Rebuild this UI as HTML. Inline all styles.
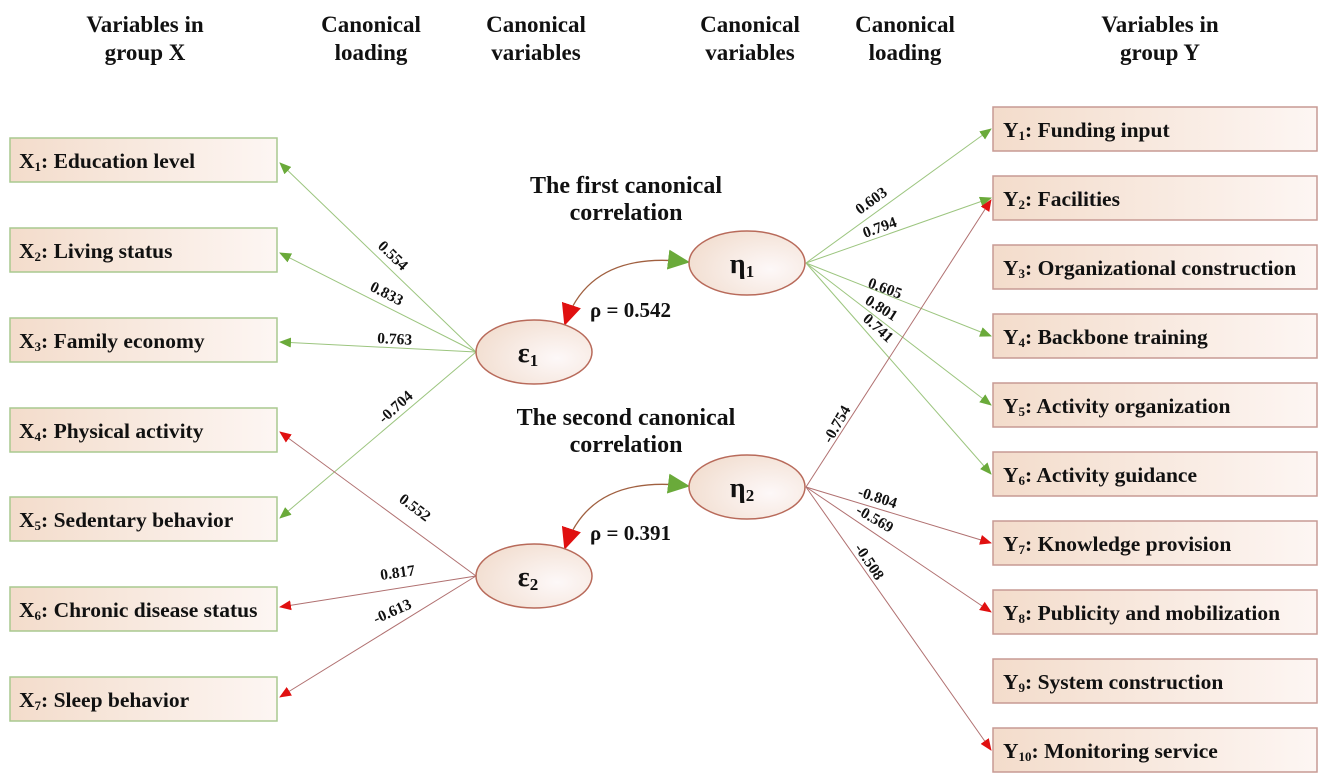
<!DOCTYPE html>
<html><head><meta charset="utf-8"><style>
html,body{margin:0;padding:0;background:#fff;}
svg{display:block;}
text{font-family:"Liberation Serif",serif;font-weight:bold;fill:#111;}
</style></head><body>
<svg width="1325" height="781" viewBox="0 0 1325 781" xmlns="http://www.w3.org/2000/svg">
<defs>
<linearGradient id="bg" x1="0" y1="0" x2="1" y2="0">
<stop offset="0" stop-color="#f3dccb"/><stop offset="1" stop-color="#fdf6f3"/></linearGradient>
<radialGradient id="eg" cx="0.7" cy="0.6" r="0.8">
<stop offset="0" stop-color="#fdf8f8"/><stop offset="1" stop-color="#f1dccd"/></radialGradient>
<marker id="ag" markerWidth="12" markerHeight="10" refX="11" refY="5" orient="auto" markerUnits="userSpaceOnUse"><path d="M0,0 L12,5 L0,10 Z" fill="#6aaa3a"/></marker>
<marker id="ar" markerWidth="12" markerHeight="10" refX="11" refY="5" orient="auto" markerUnits="userSpaceOnUse"><path d="M0,0 L12,5 L0,10 Z" fill="#e01010"/></marker>
<marker id="bg2" markerWidth="22" markerHeight="20" refX="20" refY="10" orient="auto" markerUnits="userSpaceOnUse"><path d="M0,0 L22,10 L0,20 Z" fill="#6aaa3a"/></marker>
<marker id="br2" markerWidth="22" markerHeight="20" refX="20" refY="10" orient="auto-start-reverse" markerUnits="userSpaceOnUse"><path d="M0,0 L22,10 L0,20 Z" fill="#e01010"/></marker>
</defs>

<g font-size="23" text-anchor="middle">
<text x="145" y="32">Variables in</text><text x="145" y="60">group X</text>
<text x="371" y="32">Canonical</text><text x="371" y="60">loading</text>
<text x="536" y="32">Canonical</text><text x="536" y="60">variables</text>
<text x="750" y="32">Canonical</text><text x="750" y="60">variables</text>
<text x="905" y="32">Canonical</text><text x="905" y="60">loading</text>
<text x="1160" y="32">Variables in</text><text x="1160" y="60">group Y</text>
</g>

<g stroke="#a9c98f" stroke-width="1.5" fill="url(#bg)">
<rect x="10" y="138" width="267" height="44"/><rect x="10" y="228" width="267" height="44"/>
<rect x="10" y="318" width="267" height="44"/><rect x="10" y="408" width="267" height="44"/>
<rect x="10" y="497" width="267" height="44"/><rect x="10" y="587" width="267" height="44"/>
<rect x="10" y="677" width="267" height="44"/>
</g>
<g font-size="21.5">
<text x="19" y="168">X<tspan font-size="13" dy="3">1</tspan><tspan dy="-3">: Education level</tspan></text>
<text x="19" y="258">X<tspan font-size="13" dy="3">2</tspan><tspan dy="-3">: Living status</tspan></text>
<text x="19" y="348">X<tspan font-size="13" dy="3">3</tspan><tspan dy="-3">: Family economy</tspan></text>
<text x="19" y="438">X<tspan font-size="13" dy="3">4</tspan><tspan dy="-3">: Physical activity</tspan></text>
<text x="19" y="527">X<tspan font-size="13" dy="3">5</tspan><tspan dy="-3">: Sedentary behavior</tspan></text>
<text x="19" y="617">X<tspan font-size="13" dy="3">6</tspan><tspan dy="-3">: Chronic disease status</tspan></text>
<text x="19" y="707">X<tspan font-size="13" dy="3">7</tspan><tspan dy="-3">: Sleep behavior</tspan></text>
</g>

<g stroke="#c79a94" stroke-width="1.5" fill="url(#bg)">
<rect x="993" y="107" width="324" height="44"/><rect x="993" y="176" width="324" height="44"/>
<rect x="993" y="245" width="324" height="44"/><rect x="993" y="314" width="324" height="44"/>
<rect x="993" y="383" width="324" height="44"/><rect x="993" y="452" width="324" height="44"/>
<rect x="993" y="521" width="324" height="44"/><rect x="993" y="590" width="324" height="44"/>
<rect x="993" y="659" width="324" height="44"/><rect x="993" y="728" width="324" height="44"/>
</g>
<g font-size="21.5">
<text x="1003" y="137">Y<tspan font-size="13" dy="3">1</tspan><tspan dy="-3">: Funding input</tspan></text>
<text x="1003" y="206">Y<tspan font-size="13" dy="3">2</tspan><tspan dy="-3">: Facilities</tspan></text>
<text x="1003" y="275">Y<tspan font-size="13" dy="3">3</tspan><tspan dy="-3">: Organizational construction</tspan></text>
<text x="1003" y="344">Y<tspan font-size="13" dy="3">4</tspan><tspan dy="-3">: Backbone training</tspan></text>
<text x="1003" y="413">Y<tspan font-size="13" dy="3">5</tspan><tspan dy="-3">: Activity organization</tspan></text>
<text x="1003" y="482">Y<tspan font-size="13" dy="3">6</tspan><tspan dy="-3">: Activity guidance</tspan></text>
<text x="1003" y="551">Y<tspan font-size="13" dy="3">7</tspan><tspan dy="-3">: Knowledge provision</tspan></text>
<text x="1003" y="620">Y<tspan font-size="13" dy="3">8</tspan><tspan dy="-3">: Publicity and mobilization</tspan></text>
<text x="1003" y="689">Y<tspan font-size="13" dy="3">9</tspan><tspan dy="-3">: System construction</tspan></text>
<text x="1003" y="758">Y<tspan font-size="13" dy="3">10</tspan><tspan dy="-3">: Monitoring service</tspan></text>
</g>

<g stroke="#9cc57f" stroke-width="1" fill="none">
<line x1="476" y1="352" x2="280" y2="163" marker-end="url(#ag)"/>
<line x1="476" y1="352" x2="280" y2="253" marker-end="url(#ag)"/>
<line x1="476" y1="352" x2="280" y2="342" marker-end="url(#ag)"/>
<line x1="476" y1="352" x2="280" y2="518" marker-end="url(#ag)"/>
</g>
<g stroke="#b07070" stroke-width="1" fill="none">
<line x1="476" y1="576" x2="280" y2="432" marker-end="url(#ar)"/>
<line x1="476" y1="576" x2="280" y2="607" marker-end="url(#ar)"/>
<line x1="476" y1="576" x2="280" y2="697" marker-end="url(#ar)"/>
</g>
<g stroke="#9cc57f" stroke-width="1" fill="none">
<line x1="806" y1="263" x2="991" y2="129" marker-end="url(#ag)"/>
<line x1="806" y1="263" x2="991" y2="198" marker-end="url(#ag)"/>
<line x1="806" y1="263" x2="991" y2="336" marker-end="url(#ag)"/>
<line x1="806" y1="263" x2="991" y2="405" marker-end="url(#ag)"/>
<line x1="806" y1="263" x2="991" y2="474" marker-end="url(#ag)"/>
</g>
<g stroke="#b07070" stroke-width="1" fill="none">
<line x1="806" y1="487" x2="991" y2="200" marker-end="url(#ar)"/>
<line x1="806" y1="487" x2="991" y2="543" marker-end="url(#ar)"/>
<line x1="806" y1="487" x2="991" y2="612" marker-end="url(#ar)"/>
<line x1="806" y1="487" x2="991" y2="750" marker-end="url(#ar)"/>
</g>

<path d="M565 324 Q590 250 688 262" stroke="#a06040" stroke-width="1.3" fill="none" marker-start="url(#br2)" marker-end="url(#bg2)"/>
<path d="M565 548 Q590 474 688 486" stroke="#a06040" stroke-width="1.3" fill="none" marker-start="url(#br2)" marker-end="url(#bg2)"/>

<g stroke="#b86a5a" stroke-width="1.5" fill="url(#eg)">
<ellipse cx="534" cy="352" rx="58" ry="32"/>
<ellipse cx="747" cy="263" rx="58" ry="32"/>
<ellipse cx="534" cy="576" rx="58" ry="32"/>
<ellipse cx="747" cy="487" rx="58" ry="32"/>
</g>
<g font-size="28" text-anchor="middle">
<text x="528" y="362">ε<tspan font-size="17" dy="4">1</tspan></text>
<text x="742" y="273">η<tspan font-size="17" dy="4">1</tspan></text>
<text x="528" y="586">ε<tspan font-size="17" dy="4">2</tspan></text>
<text x="742" y="497">η<tspan font-size="17" dy="4">2</tspan></text>
</g>

<g font-size="24" text-anchor="middle">
<text x="626" y="193">The first canonical</text><text x="626" y="220">correlation</text>
<text x="626" y="425">The second canonical</text><text x="626" y="452">correlation</text>
</g>
<g font-size="21">
<text x="590" y="317">ρ = 0.542</text>
<text x="590" y="540">ρ = 0.391</text>
</g>

<g font-size="15.5">
<text transform="translate(377,247) rotate(44)">0.554</text>
<text transform="translate(369,290) rotate(27)">0.833</text>
<text transform="translate(377,343) rotate(3)">0.763</text>
<text transform="translate(384,424) rotate(-42)">-0.704</text>
<text transform="translate(398,501) rotate(37)">0.552</text>
<text transform="translate(381,580) rotate(-8)">0.817</text>
<text transform="translate(376,624) rotate(-24)">-0.613</text>
<text transform="translate(860,215) rotate(-36)">0.603</text>
<text transform="translate(865,238) rotate(-20)">0.794</text>
<text transform="translate(867,287) rotate(20)">0.605</text>
<text transform="translate(864,303) rotate(32)">0.801</text>
<text transform="translate(862,320) rotate(42)">0.741</text>
<text transform="translate(831,444) rotate(-60)">-0.754</text>
<text transform="translate(857,496) rotate(18)">-0.804</text>
<text transform="translate(855,513) rotate(30)">-0.569</text>
<text transform="translate(854,548) rotate(56)">-0.508</text>
</g>
</svg>
</body></html>
